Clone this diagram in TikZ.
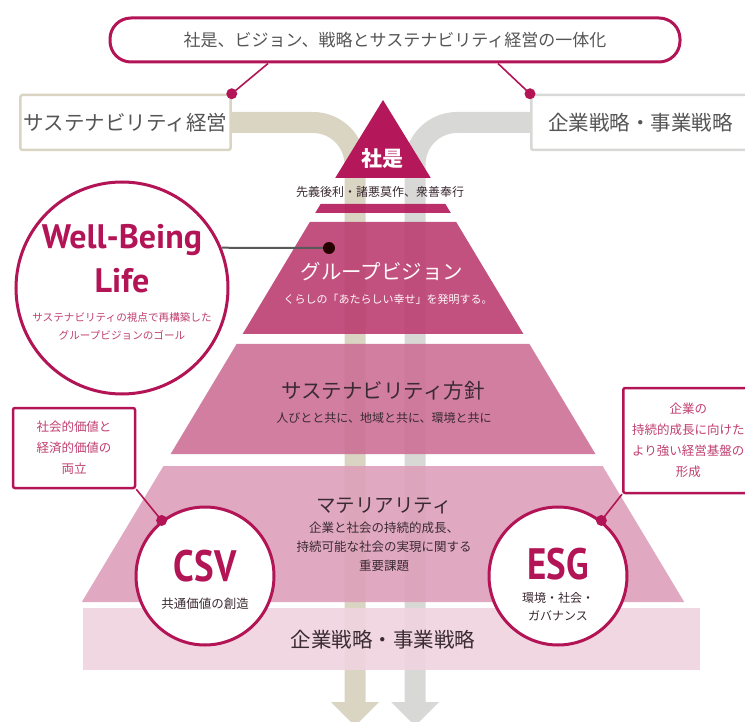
\documentclass[tikz,border=0pt]{standalone}
\usepackage{fontspec}
\setmainfont{Noto Sans CJK JP}
\newfontfamily\wbfont{PT Sans}
\newfontfamily\dinfont[FakeStretch=0.84]{PT Sans}
\usetikzlibrary{calc}

\definecolor{crimson}{RGB}{178,20,85}
\definecolor{notepink}{RGB}{192,64,112}
\definecolor{txtgray}{RGB}{85,85,85}
\definecolor{txtdark}{RGB}{58,42,50}
\definecolor{beige}{RGB}{218,213,195}
\definecolor{graybar}{RGB}{216,217,215}
\definecolor{creedcol}{RGB}{180,24,90}
\definecolor{visioncol}{RGB}{188,62,114}
\definecolor{policycol}{RGB}{204,112,150}
\definecolor{matcol}{RGB}{221,160,186}
\definecolor{bandcol}{RGB}{240,211,223}

\tikzset{
  headbox/.style={draw=crimson, line width=3pt, rounded corners=21pt, fill=white,
    minimum width=570pt, minimum height=44pt, text=txtgray,
    font=\fontsize{17}{17}\selectfont},
  sidebox/.style={line width=2.5pt, rounded corners=2pt, fill=white, minimum height=55pt,
    text=txtgray, font=\fontsize{20.5}{20.5}\selectfont},
  notebox/.style={draw=crimson, line width=2.5pt, rounded corners=2pt, fill=white,
    align=center, inner sep=0pt, text=notepink, font=\fontsize{12.5}{21}\selectfont},
  ring/.style={circle, draw=crimson, line width=3pt, fill=white, inner sep=0pt},
  ringtitle/.style={inner sep=0pt, text=crimson, font=\dinfont\bfseries\fontsize{44}{44}\selectfont},
  stream/.style={line width=21pt, rounded corners=42pt},
  layer/.style={fill opacity=0.9},
  link/.style={crimson, line width=1.6pt},
  dot/.style={fill=crimson},
  bigtext/.style={font=\fontsize{20.5}{20.5}\selectfont},
  subtext/.style={align=center, font=\fontsize{12}{19}\selectfont}
}

\begin{document}
\begin{tikzpicture}[x=1pt,y=-1pt]
  \useasboundingbox (0,0) rectangle (745,722);
  \clip (0,0) rectangle (745,722);

  \node[headbox] (head) at (395,40) {社是、ビジョン、戦略とサステナビリティ経営の一体化};
  \node[sidebox, draw=beige] (sust) at (125.5,122.5) {サステナビリティ経営};
  \node[sidebox, draw=graybar, anchor=west, text width=212pt, align=left,
    inner xsep=17pt] (strat) at (530,122.5) {企業戦略・事業戦略};

  % two streams down through the pyramid
  \draw[stream, beige] (sust.east) -- (355,122.5) -- (355,703);
  \draw[stream, graybar] (strat.west) -- (415,122.5) -- (415,703);
  \fill[beige] (331,702) -- (379,702) -- (355,726) -- cycle;
  \fill[graybar] (391,702) -- (439,702) -- (415,726) -- cycle;

  % pyramid
  \fill[creedcol] (383,100) -- (430.8,178) -- (335.2,178) -- cycle;
  \fill[creedcol, layer] (320.6,204) -- (445.4,204) -- (450.8,213) -- (315.2,213) -- cycle;
  \fill[visioncol, layer] (309.8,222) -- (456.2,222) -- (523.4,334) -- (242.6,334) -- cycle;
  \fill[policycol, layer] (236.6,344) -- (529.4,344) -- (595.4,454) -- (170.6,454) -- cycle;
  \fill[matcol, layer] (163.4,466) -- (602.6,466) -- (684.2,602) -- (81.8,602) -- cycle;
  \fill[bandcol, layer] (83,608) rectangle (700,670);

  \node[text=white, font=\fontsize{21}{21}\selectfont\bfseries] (creed) at (382,159) {社是};
  \node[text=txtdark, font=\fontsize{12}{12}\selectfont] (motto) at (380,192) {先義後利・諸悪莫作、衆善奉行};
  \node[bigtext, text=white!92!pink] (vision) at (382,272) {グループビジョン};
  \node[subtext, text=white!92!pink, font=\fontsize{11}{11}\selectfont] (visionsub) at (388,299)
    {くらしの「あたらしい幸せ」を発明する。};
  \node[bigtext, text=txtdark] (policy) at (383,391) {サステナビリティ方針};
  \node[subtext, text=txtdark] (policysub) at (384,418) {人びとと共に、地域と共に、環境と共に};
  \node[bigtext, text=txtdark, font=\fontsize{19.5}{19.5}\selectfont] (mat) at (384,506) {マテリアリティ};
  \node[subtext, text=txtdark, font=\fontsize{12.5}{19}\selectfont] (matsub) at (384,547)
    {企業と社会の持続的成長、\\持続可能な社会の実現に関する\\重要課題};
  \node[bigtext, text=txtdark] (band) at (383,640) {企業戦略・事業戦略};

  % circles
  \node[ring, minimum size=212pt] (wbl) at (122,288) {};
  \node[text=crimson, font=\wbfont\bfseries\fontsize{34}{34}\selectfont] (wbtitle) at (122,240) {Well-Being};
  \node[text=crimson, font=\wbfont\bfseries\fontsize{34}{34}\selectfont] (wblife) at (122,281) {Life};
  \node[subtext, text=notepink, font=\fontsize{10.6}{18}\selectfont] (wbsub) at (122,326)
    {サステナビリティの視点で再構築した\\グループビジョンのゴール};

  \node[ring, minimum size=138pt] (csv) at (205,576) {};
  \node[ringtitle] (csvtitle) at (205,566) {CSV};
  \node[text=txtdark, font=\fontsize{12.5}{12.5}\selectfont] (csvsub) at (205,604) {共通価値の創造};

  \node[ring, minimum size=138pt] (esg) at (558,576) {};
  \node[ringtitle] (esgtitle) at (558,564) {ESG};
  \node[subtext, text=txtdark, inner sep=0pt, font=\fontsize{12}{18}\selectfont] (esgsub) at (558,607)
    {環境・社会・\\ガバナンス};

  \node[notebox, minimum width=122pt, minimum height=80pt] (csvnote) at (74,448)
    {社会的価値と\\経済的価値の\\両立};
  \node[notebox, anchor=west, text width=130pt, minimum height=105pt] (esgnote) at (622,440.5)
    {企業の\\持続的成長に向けた\\より強い経営基盤の\\形成};

  % links
  \draw[link] ($(head.south)+(-127,0)$) -- (sust.north east);
  \fill[dot] (sust.north east) circle (5.5);
  \draw[link] ($(head.south)+(103,0)$) -- (strat.north west);
  \fill[dot] (strat.north west) circle (5.5);

  \coordinate (visdot) at (329,248);
  \draw[line width=2pt, black!65] (wbl.22) -- (visdot);
  \fill[black!85!red] (visdot) circle (6);

  \draw[link] (csv.128) -- (csvnote.south east);
  \fill[dot] (csv.128) circle (5.5);
  \draw[link] (esg.52) -- (esgnote.south west);
  \fill[dot] (esg.52) circle (5.5);
\end{tikzpicture}
\end{document}
